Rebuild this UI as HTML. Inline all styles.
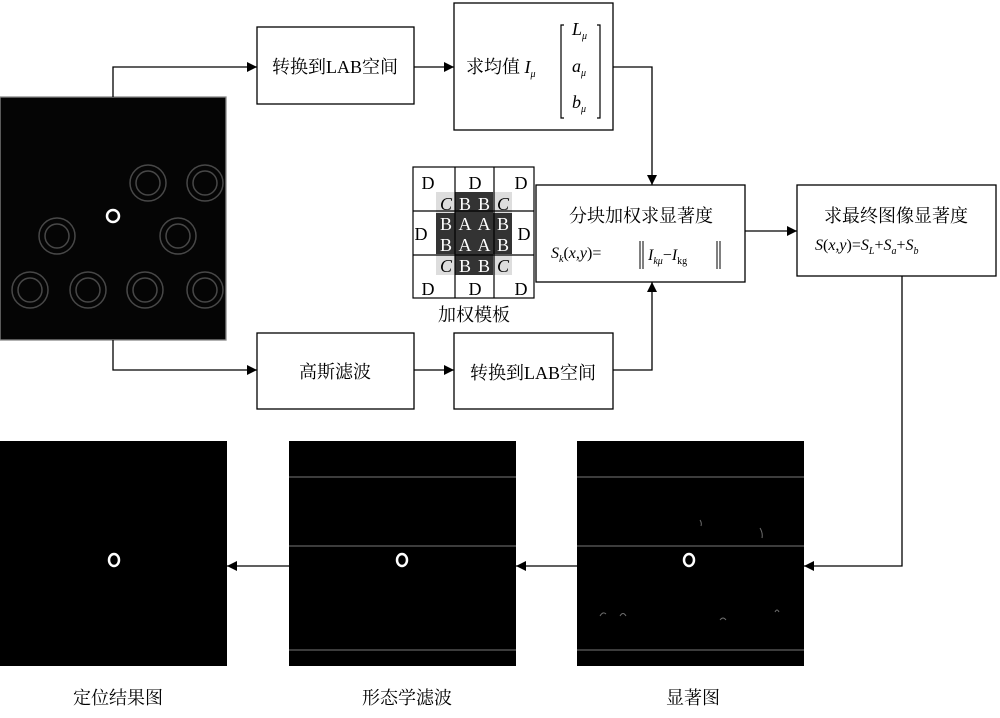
<!DOCTYPE html>
<html><head><meta charset="utf-8"><style>
body{margin:0;background:#fff;}
svg text{font-family:"Liberation Serif","Noto Serif CJK SC",serif;}
</style></head><body>
<svg width="1000" height="713" viewBox="0 0 1000 713" xmlns="http://www.w3.org/2000/svg">
<defs>
<marker id="a" markerWidth="10" markerHeight="10" refX="10" refY="5" orient="auto" markerUnits="userSpaceOnUse"><path d="M0,0 L10,5 L0,10z" fill="#000"/></marker>
</defs>
<g fill="none" stroke="#000" stroke-width="1.3">
<rect x="0" y="97" width="226" height="243" fill="#050505" stroke="#888"/>
<rect x="257" y="27" width="157" height="77" fill="#fff"/>
<rect x="454" y="3" width="159" height="127" fill="#fff"/>
<rect x="536" y="185" width="209" height="97" fill="#fff"/>
<rect x="797" y="185" width="199" height="91" fill="#fff"/>
<rect x="257" y="333" width="157" height="76" fill="#fff"/>
<rect x="454" y="333" width="159" height="76" fill="#fff"/>
<polyline points="113,97 113,67 257,67" marker-end="url(#a)"/>
<line x1="414" y1="67" x2="454" y2="67" marker-end="url(#a)"/>
<polyline points="613,67 652,67 652,185" marker-end="url(#a)"/>
<line x1="745" y1="231" x2="797" y2="231" marker-end="url(#a)"/>
<polyline points="113,340 113,370 257,370" marker-end="url(#a)"/>
<line x1="414" y1="370" x2="454" y2="370" marker-end="url(#a)"/>
<polyline points="613,370 652,370 652,282" marker-end="url(#a)"/>
<polyline points="902,276 902,566 804,566" marker-end="url(#a)"/>
<line x1="577" y1="566" x2="516" y2="566" marker-end="url(#a)"/>
<line x1="289" y1="566" x2="227" y2="566" marker-end="url(#a)"/>
</g>
<g fill="none" stroke="#999" stroke-width="1.5" opacity="0.45">
<circle cx="148" cy="183" r="18"/><circle cx="205" cy="183" r="18"/>
<circle cx="57" cy="236" r="18"/><circle cx="178" cy="236" r="18"/>
<circle cx="30" cy="290" r="18"/><circle cx="88" cy="290" r="18"/><circle cx="145" cy="290" r="18"/><circle cx="205" cy="290" r="18"/>
<circle cx="148" cy="183" r="12"/><circle cx="205" cy="183" r="12"/>
<circle cx="57" cy="236" r="12"/><circle cx="178" cy="236" r="12"/>
<circle cx="30" cy="290" r="12"/><circle cx="88" cy="290" r="12"/><circle cx="145" cy="290" r="12"/><circle cx="205" cy="290" r="12"/>
</g>
<circle cx="113" cy="216" r="6" fill="none" stroke="#fff" stroke-width="2.5"/>
<g>
<rect x="436" y="192" width="76" height="83" fill="#333"/>
<g fill="#ddd"><rect x="436" y="192" width="19" height="21"/><rect x="493" y="192" width="19" height="21"/><rect x="436" y="254" width="19" height="21"/><rect x="493" y="254" width="19" height="21"/></g>
<g fill="none" stroke="#000" stroke-width="1.2">
<rect x="413" y="167" width="121" height="131"/>
<line x1="455" y1="167" x2="455" y2="298"/><line x1="494" y1="167" x2="494" y2="298"/>
<line x1="413" y1="211" x2="534" y2="211"/><line x1="413" y1="255" x2="534" y2="255"/>
</g>
<g font-size="18" text-anchor="middle">
<text x="428" y="189">D</text><text x="475" y="189">D</text><text x="521" y="189">D</text>
<text x="421" y="240">D</text><text x="524" y="240">D</text>
<text x="428" y="295">D</text><text x="475" y="295">D</text><text x="521" y="295">D</text>
<g fill="#fff"><text x="465" y="210">B</text><text x="484" y="210">B</text>
<text x="446" y="230">B</text><text x="465" y="230">A</text><text x="484" y="230">A</text><text x="503" y="230">B</text>
<text x="446" y="251">B</text><text x="465" y="251">A</text><text x="484" y="251">A</text><text x="503" y="251">B</text>
<text x="465" y="272">B</text><text x="484" y="272">B</text></g>
<g fill="#000" font-style="italic"><text x="446" y="210">C</text><text x="503" y="210">C</text><text x="446" y="272">C</text><text x="503" y="272">C</text></g>
</g>
<text x="474" y="321" font-size="18" text-anchor="middle">加权模板</text>
</g>
<g font-size="18">
<text x="335" y="73" text-anchor="middle">转换到LAB空间</text>
<text x="466" y="73">求均值 <tspan font-style="italic">I</tspan><tspan font-size="10" dy="4" font-style="italic">μ</tspan></text>
<text x="572" y="35" font-style="italic">L<tspan font-size="10" dy="4">μ</tspan></text>
<text x="572" y="72" font-style="italic">a<tspan font-size="10" dy="4">μ</tspan></text>
<text x="572" y="108" font-style="italic">b<tspan font-size="10" dy="4">μ</tspan></text>
<path d="M564,25 h-3 v93 h3 M597,25 h3 v93 h-3" fill="none" stroke="#000" stroke-width="1.2"/>
<text x="641" y="222" text-anchor="middle">分块加权求显著度</text>
<text x="551" y="258" font-style="italic" font-size="16">S<tspan font-size="10" dy="4">k</tspan><tspan dy="-4" font-style="normal">(</tspan>x,y<tspan font-style="normal">)=</tspan></text>
<path d="M640,241 v28 M643,241 v28 M717,241 v28 M720,241 v28" stroke="#000" stroke-width="1"/>
<text x="648" y="260" font-style="italic" font-size="16">I<tspan font-size="10" dy="4">kμ</tspan><tspan dy="-4" font-style="normal">−</tspan>I<tspan font-size="10" dy="4" font-style="normal">kg</tspan></text>
<text x="896" y="222" text-anchor="middle">求最终图像显著度</text>
<text x="815" y="250" font-style="italic" font-size="16">S<tspan font-style="normal">(</tspan>x,y<tspan font-style="normal">)=</tspan>S<tspan font-size="10" dy="4">L</tspan><tspan dy="-4" font-style="normal">+</tspan>S<tspan font-size="10" dy="4">a</tspan><tspan dy="-4" font-style="normal">+</tspan>S<tspan font-size="10" dy="4">b</tspan></text>
<text x="335" y="378" text-anchor="middle">高斯滤波</text>
<text x="533" y="379" text-anchor="middle">转换到LAB空间</text>
</g>
<rect x="0" y="441" width="227" height="225" fill="#000"/>
<rect x="289" y="441" width="227" height="225" fill="#000"/>
<rect x="577" y="441" width="227" height="225" fill="#000"/>
<g stroke="#777" stroke-width="1">
<line x1="289" y1="477" x2="516" y2="477"/><line x1="289" y1="546" x2="516" y2="546"/><line x1="289" y1="650" x2="516" y2="650"/>
<line x1="577" y1="477" x2="804" y2="477"/><line x1="577" y1="546" x2="804" y2="546"/><line x1="577" y1="650" x2="804" y2="650"/>
</g>
<g fill="none" stroke="#fff" stroke-width="2.5">
<ellipse cx="114" cy="560" rx="5" ry="6"/><ellipse cx="402" cy="560" rx="5" ry="6"/><ellipse cx="689" cy="560" rx="5" ry="6"/>
</g>
<g fill="none" stroke="#888" stroke-width="1" opacity="0.8">
<path d="M760,528 q3,5 2,10"/><path d="M700,520 q2,3 1,6"/><path d="M600,616 q3,-5 6,-2"/><path d="M620,616 q3,-5 6,0"/><path d="M720,620 q3,-4 6,0"/><path d="M775,612 q2,-4 4,0"/>
</g>
<g font-size="18" text-anchor="middle">
<text x="118" y="704">定位结果图</text>
<text x="407" y="704">形态学滤波</text>
<text x="693" y="704">显著图</text>
</g>
</svg>
</body></html>
